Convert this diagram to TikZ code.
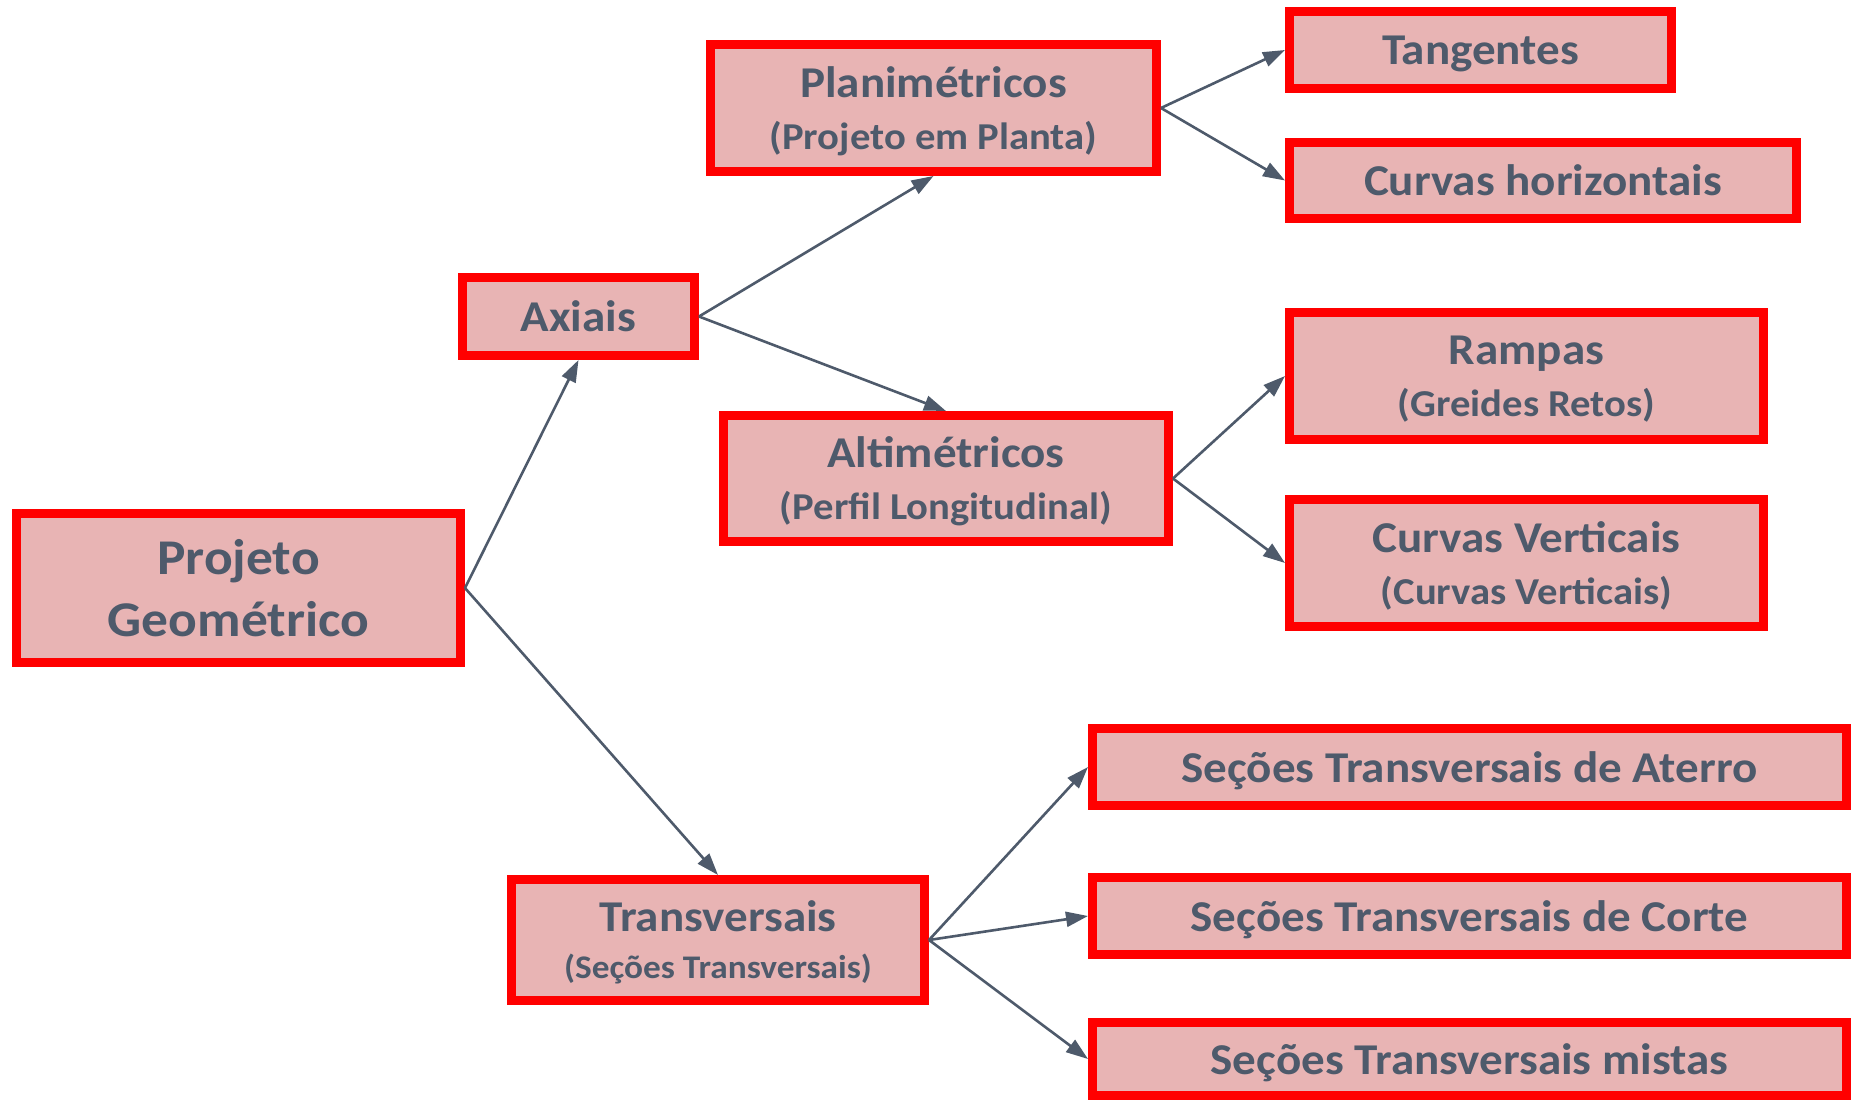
\documentclass[tikz,border=0pt]{standalone}
\usepackage{fontspec}
\setmainfont{Carlito}[FakeStretch=1.07]
\usetikzlibrary{arrows.meta}
\definecolor{boxred}{HTML}{FF0000}
\definecolor{boxfill}{HTML}{E8B4B4}
\definecolor{txt}{HTML}{4E5A6B}
\newcommand{\sfont}{\fontsize{38}{52}\selectfont}
\newcommand{\ssfont}{\fontsize{33}{47}\selectfont}
\tikzset{
  box/.style={draw=boxred, fill=boxfill, line width=9pt, rectangle, inner sep=0pt,
    text=txt, font=\bfseries\fontsize{44}{52}\selectfont, align=center, text depth=0pt},
  bigbox/.style={box, font=\bfseries\fontsize{50}{62}\selectfont},
  tbox/.style={box, font=\bfseries\fontsize{44}{47}\selectfont},
  conn/.style={draw=txt, line width=2.6pt, -{Triangle[length=22pt,width=15pt]}}
}
\begin{document}
\begin{tikzpicture}[x=1pt,y=-1pt]
\useasboundingbox (0,0) rectangle (1853,1100);
\node[bigbox, minimum width=444pt, minimum height=149pt] (proj) at (238.5,588) {Projeto\\Geométrico};
\node[box, minimum width=232pt, minimum height=78pt] (ax) at (578.5,316.5) {Axiais};
\node[box, minimum width=446pt, minimum height=127pt] (plan) at (933.5,108) {Planimétricos\\\sfont (Projeto em Planta)};
\node[box, minimum width=445pt, minimum height=126pt] (alt) at (946,478.5) {Altimétricos\\\sfont (Perfil Longitudinal)};
\node[box, minimum width=382pt, minimum height=77pt] (tang) at (1480.5,50) {Tangentes};
\node[box, minimum width=507pt, minimum height=76pt] (curvh) at (1543,180.5) {Curvas horizontais};
\node[box, minimum width=474pt, minimum height=127pt] (ramp) at (1526.5,376) {Rampas\\\sfont (Greides Retos)};
\node[box, minimum width=474pt, minimum height=127pt] (curvv) at (1526.5,563) {Curvas Verticais\\\sfont (Curvas Verticais)};
\node[tbox, minimum width=413pt, minimum height=121pt] (transv) at (718,940) {Transversais\\\ssfont (Seções Transversais)};
\node[box, minimum width=754pt, minimum height=77pt] (ater) at (1469.5,767) {Seções Transversais de Aterro};
\node[box, minimum width=754pt, minimum height=77pt] (corte) at (1469.5,916) {Seções Transversais de Corte};
\node[box, minimum width=754pt, minimum height=73pt] (mist) at (1469.5,1059) {Seções Transversais mistas};
\draw[conn] (proj.east) -- (ax.south);
\draw[conn] (proj.east) -- (transv.north);
\draw[conn] (ax.east) -- (plan.south);
\draw[conn] (ax.east) -- (alt.north);
\draw[conn] (plan.east) -- (tang.west);
\draw[conn] (plan.east) -- (curvh.west);
\draw[conn] (alt.east) -- (ramp.west);
\draw[conn] (alt.east) -- (curvv.west);
\draw[conn] (transv.east) -- (ater.west);
\draw[conn] (transv.east) -- (corte.west);
\draw[conn] (transv.east) -- (mist.west);
\end{tikzpicture}
\end{document}
